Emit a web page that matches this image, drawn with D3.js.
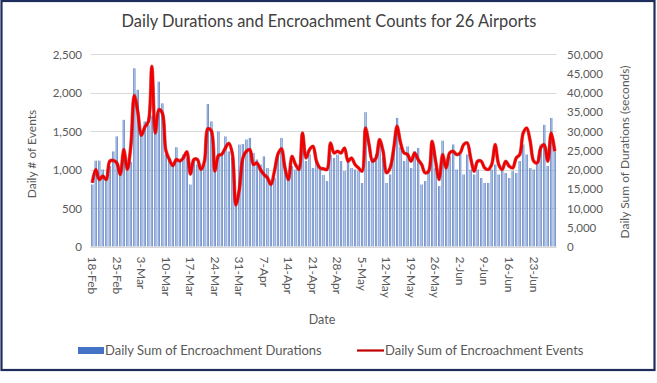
<!DOCTYPE html>
<html>
<head>
<meta charset="utf-8">
<script src="https://cdn.jsdelivr.net/npm/d3@7"></script>
<style>
  html, body { margin: 0; padding: 0; background: #ffffff; }
  svg { display: block; }
  text { font-family: Lato, "Open Sans", sans-serif; }
</style>
</head>
<body>
<svg id="chart" width="657" height="383"></svg>
<script>
// ---- data ----
const startDate = "2020-02-18";
const durations = [
  16100, 22300, 22300, 20000, 17800, 20900, 24700, 28600, 18700, 32900,
  19600, 22000, 46300, 40700, 29900, 32500, 31600, 34000, 30000, 42800,
  37200, 23900, 23000, 21700, 25800, 22200, 23900, 23000, 16100, 22200,
  21300, 19600, 21300, 37000, 32500, 19600, 29900, 23900, 28600, 24700,
  23000, 10900, 26500, 26600, 27800, 28200, 24300, 22600, 21300, 23400,
  20400, 16100, 17800, 23900, 28200, 21300, 17800, 20900, 20000, 21300,
  27300, 22200, 23900, 20400, 22200, 20000, 18600, 17000, 23900, 23000,
  23900, 22200, 19600, 23000, 20400, 20000, 19600, 16500, 34900, 22200,
  23000, 23900, 27300, 23000, 16500, 18700, 25600, 33400, 25800, 22200,
  26000, 20400, 24700, 25600, 16100, 17000, 19600, 24700, 20400, 15700,
  27500, 20400, 23400, 26500, 20000, 23900, 18700, 23900, 20000, 18700,
  20000, 17800, 16500, 16500, 20000, 21300, 18700, 19600, 19100, 17800,
  19600, 19100, 22200, 26500, 23900, 20400, 20000, 21300, 26500, 31600,
  20900, 33400, 24700
];
const events = [
  828, 1000, 870, 914, 870, 1108, 1116, 1086, 935, 1258,
  1000, 1300, 1960, 1750, 1444, 1550, 1620, 2340, 1474, 1776,
  1733, 1250, 1130, 1050, 1130, 1110, 1150, 1230, 940, 1130,
  1130, 1000, 1100, 1530, 1500, 980, 1180, 1200, 1280, 1340,
  1200, 540, 750, 1150, 1237, 1258, 1065, 1086, 1000, 935,
  892, 806, 978, 1200, 1270, 1020, 870, 1172, 1065, 1000,
  1474, 1150, 1258, 1301, 1108, 1020, 1010, 1000, 1345, 1215,
  1237, 1215, 1280, 1108, 1150, 1065, 1020, 978, 1539, 1323,
  1108, 1150, 1388, 1237, 957, 1020, 1258, 1560, 1345, 1215,
  1194, 1108, 1215, 1130, 1065, 957, 978, 1366, 1108, 870,
  1194, 1020, 1215, 1237, 1194, 1215, 1323, 1345, 1150, 978,
  1108, 1108, 1020, 1000, 1065, 1323, 1065, 1000, 1108, 1043,
  1020, 1150, 1194, 1474, 1539, 1366, 1108, 1086, 1280, 1323,
  1108, 1474, 1237
];
const leftTicks = [0, 500, 1000, 1500, 2000, 2500];
const rightTicks = [0, 5000, 10000, 15000, 20000, 25000, 30000, 35000, 40000, 45000, 50000];
const tickEvery = 7;
const title = "Daily Durations and Encroachment Counts for 26 Airports";
const leftTitle = "Daily # of Events";
const rightTitle = "Daily Sum of Durations (seconds)";
const xTitle = "Date";
const legendBars = "Daily Sum of Encroachment Durations";
const legendLine = "Daily Sum of Encroachment Events";

// categories (consecutive days)
const parse = d3.utcParse("%Y-%m-%d");
const fmt = d3.utcFormat("%-d-%b");
const dates = durations.map((_, i) => d3.utcDay.offset(parse(startDate), i));

const svg = d3.select("#chart");
const W = 657, H = 383;
const plot = { left: 90.5, right: 556.5, top: 54, bottom: 246.5 };

svg.append("rect").attr("x", 0).attr("y", 0).attr("width", W).attr("height", H).attr("fill", "#ffffff");
// frame
svg.append("rect").attr("x", 1.5).attr("y", 1).attr("width", 653).attr("height", 369)
  .attr("fill", "#ffffff").attr("stroke", "#1f2d5c").attr("stroke-width", 2.2);

const x = d3.scaleBand().domain(d3.range(durations.length)).range([plot.left, plot.right]).paddingInner(0.36).paddingOuter(0.18);
const yL = d3.scaleLinear().domain([0, 2500]).range([plot.bottom, plot.top]);
const yR = d3.scaleLinear().domain([0, 50000]).range([plot.bottom, plot.top]);

// gridlines
svg.append("g").selectAll("line").data(leftTicks).join("line")
  .attr("x1", plot.left).attr("x2", plot.right)
  .attr("y1", d => Math.round(yL(d)) + 0.5).attr("y2", d => Math.round(yL(d)) + 0.5)
  .attr("stroke", "#d9d9d9").attr("stroke-width", 1);

// bar gradient
const defs = svg.append("defs");
const grad = defs.append("linearGradient").attr("id", "barGrad").attr("x1", "0").attr("x2", "1").attr("y1", "0").attr("y2", "0");
grad.append("stop").attr("offset", "0%").attr("stop-color", "#4a70b8");
grad.append("stop").attr("offset", "50%").attr("stop-color", "#b3c8ec");
grad.append("stop").attr("offset", "100%").attr("stop-color", "#4a70b8");

svg.append("g").selectAll("rect").data(durations).join("rect")
  .attr("x", (d, i) => x(i))
  .attr("width", x.bandwidth())
  .attr("y", d => yR(d))
  .attr("height", d => yR(0) - yR(d))
  .attr("fill", "url(#barGrad)");

// x axis baseline
svg.append("line").attr("x1", plot.left).attr("x2", plot.right)
  .attr("y1", plot.bottom + 0.5).attr("y2", plot.bottom + 0.5)
  .attr("stroke", "#d9d9d9").attr("stroke-width", 1);

// line
const line = d3.line().x((d, i) => x(i) + x.bandwidth() / 2).y(d => yL(d)).curve(d3.curveCatmullRom.alpha(0.5));
svg.append("path").datum(events).attr("d", line).attr("fill", "none")
  .attr("stroke", "#b00000").attr("stroke-width", 3.6).attr("stroke-linejoin", "round").attr("opacity", 0.55);
svg.append("path").datum(events).attr("d", line).attr("fill", "none")
  .attr("stroke", "#f00000").attr("stroke-width", 2.6).attr("stroke-linejoin", "round");

// left axis labels
const axisColor = "#595959";
const leftAxis = d3.axisLeft(yL).tickValues(leftTicks).tickFormat(d3.format(",")).tickSize(0).tickPadding(0);
const gL = svg.append("g").attr("transform", `translate(82,0)`).call(leftAxis);
gL.select(".domain").remove();
gL.selectAll("text").attr("fill", axisColor).attr("font-size", 11.5).attr("font-family", "Lato, sans-serif").attr("dy", "0.35em");

const rightAxis = d3.axisRight(yR).tickValues(rightTicks).tickFormat(d3.format(",")).tickSize(0).tickPadding(0);
const gR = svg.append("g").attr("transform", `translate(567,0)`).call(rightAxis);
gR.select(".domain").remove();
gR.selectAll("text").attr("fill", axisColor).attr("font-size", 11.5).attr("font-family", "Lato, sans-serif").attr("dy", "0.35em");

// x axis labels (rotated)
const tickIdx = d3.range(0, durations.length, tickEvery);
const xAxis = d3.axisBottom(x).tickValues(tickIdx).tickFormat(i => fmt(dates[i])).tickSize(0).tickPadding(0);
const gX = svg.append("g").attr("transform", `translate(0,${plot.bottom})`).call(xAxis);
gX.select(".domain").remove();
gX.selectAll("text")
  .attr("fill", axisColor).attr("font-size", 12).attr("font-family", "Lato, sans-serif")
  .attr("transform", "rotate(90)")
  .attr("x", 10).attr("y", 0).attr("dy", "0.35em")
  .attr("text-anchor", "start");

// titles
svg.append("text").attr("x", 329).attr("y", 27).attr("text-anchor", "middle")
  .attr("font-size", 16.4).attr("fill", "#404040").text(title);
svg.append("text").attr("transform", "translate(36,154) rotate(-90)").attr("text-anchor", "middle")
  .attr("font-size", 12).attr("fill", axisColor).text(leftTitle);
svg.append("text").attr("transform", "translate(629,152) rotate(-90)").attr("text-anchor", "middle")
  .attr("font-size", 12).attr("fill", axisColor).text(rightTitle);
svg.append("text").attr("x", 322).attr("y", 324).attr("text-anchor", "middle")
  .attr("font-size", 12.5).attr("fill", axisColor).text(xTitle);

// legend
const lg = svg.append("g");
lg.append("rect").attr("x", 78).attr("y", 347).attr("width", 26).attr("height", 7).attr("fill", "#4472c4");
lg.append("text").attr("x", 105).attr("y", 355).attr("font-size", 13).attr("fill", axisColor).text(legendBars);
lg.append("line").attr("x1", 357).attr("x2", 384).attr("y1", 350.5).attr("y2", 350.5).attr("stroke", "#c00000").attr("stroke-width", 2.2);
lg.append("text").attr("x", 385).attr("y", 355).attr("font-size", 13).attr("fill", axisColor).text(legendLine);
</script>
</body>
</html>
